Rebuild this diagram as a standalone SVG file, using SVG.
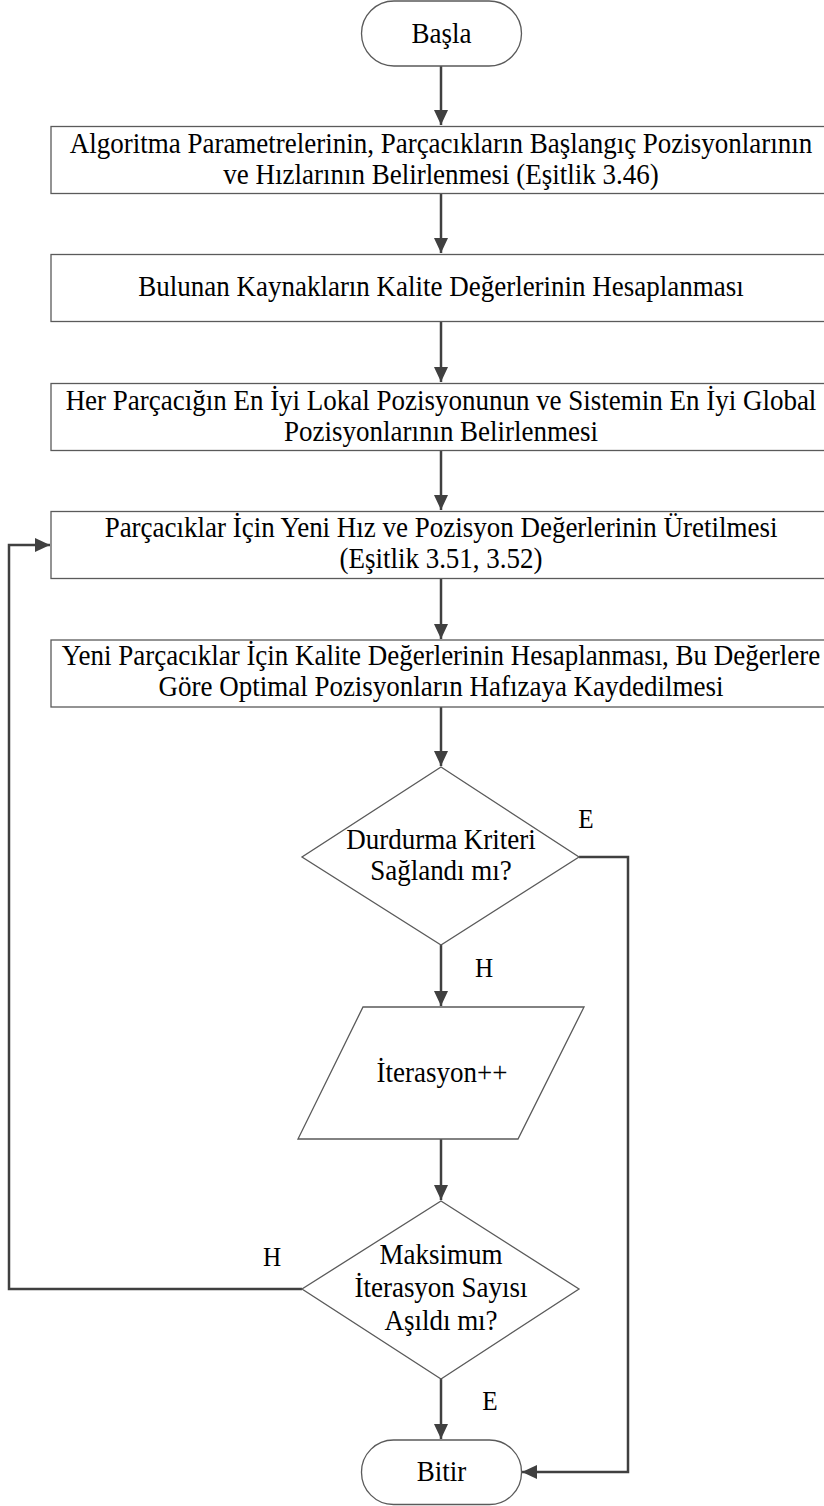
<svg xmlns="http://www.w3.org/2000/svg" width="824" height="1506" viewBox="0 0 824 1506">
<style>
.shape{fill:#ffffff;stroke:#5a5a5a;stroke-width:1.3}
.t{font-family:"Liberation Serif","Times New Roman",serif;font-size:30px;fill:#000;text-anchor:middle}
.lbl{font-family:"Liberation Serif","Times New Roman",serif;font-size:28px;fill:#000;text-anchor:middle}
.c{fill:none;stroke:#404040;stroke-width:2.5}
</style>
<defs>
<marker id="arr" markerUnits="userSpaceOnUse" markerWidth="16" markerHeight="14" refX="15" refY="7" orient="auto">
<path d="M0,0 L15,7 L0,14 Z" fill="#404040"/>
</marker>
</defs>
<rect width="824" height="1506" fill="#ffffff"/>
<g id="connectors">
<path class="c" d="M441,66 V125" marker-end="url(#arr)"/>
<path class="c" d="M441,194 V253" marker-end="url(#arr)"/>
<path class="c" d="M441,321 V382" marker-end="url(#arr)"/>
<path class="c" d="M441,450 V510" marker-end="url(#arr)"/>
<path class="c" d="M441,578 V639" marker-end="url(#arr)"/>
<path class="c" d="M441,707 V766" marker-end="url(#arr)"/>
<path class="c" d="M441,945 V1006" marker-end="url(#arr)"/>
<path class="c" d="M441,1139 V1200" marker-end="url(#arr)"/>
<path class="c" d="M441,1379 V1439" marker-end="url(#arr)"/>
<path class="c" d="M579,857 H628 V1472 H522" marker-end="url(#arr)"/>
<path class="c" d="M302,1289 H9 V545 H50" marker-end="url(#arr)"/>
</g>
<g id="labels">
<text class="lbl" transform="translate(586 828) scale(0.9 1)">E</text>
<text class="lbl" transform="translate(484 977) scale(0.9 1)">H</text>
<text class="lbl" transform="translate(272 1266) scale(0.9 1)">H</text>
<text class="lbl" transform="translate(490 1410) scale(0.9 1)">E</text>
</g>
<g id="start">
<rect class="shape" x="361.5" y="1" width="160" height="65" rx="32.5"/>
<text class="t" transform="translate(441.5 43) scale(0.9 1)">Başla</text>
</g>
<g id="box1">
<rect class="shape" x="51" y="126.5" width="790" height="67"/>
<text class="t" transform="translate(441 153) scale(0.9 1)">Algoritma Parametrelerinin, Parçacıkların Başlangıç Pozisyonlarının</text>
<text class="t" transform="translate(441 184) scale(0.9 1)">ve Hızlarının Belirlenmesi (Eşitlik 3.46)</text>
</g>
<g id="box2">
<rect class="shape" x="51" y="254.5" width="790" height="67"/>
<text class="t" transform="translate(441 296) scale(0.9 1)">Bulunan Kaynakların Kalite Değerlerinin Hesaplanması</text>
</g>
<g id="box3">
<rect class="shape" x="51" y="383.5" width="790" height="67"/>
<text class="t" transform="translate(441 410) scale(0.9 1)">Her Parçacığın En İyi Lokal Pozisyonunun ve Sistemin En İyi Global</text>
<text class="t" transform="translate(441 441) scale(0.9 1)">Pozisyonlarının Belirlenmesi</text>
</g>
<g id="box4">
<rect class="shape" x="51" y="511.5" width="790" height="67"/>
<text class="t" transform="translate(441 537) scale(0.9 1)">Parçacıklar İçin Yeni Hız ve Pozisyon Değerlerinin Üretilmesi</text>
<text class="t" transform="translate(441 568) scale(0.9 1)">(Eşitlik 3.51, 3.52)</text>
</g>
<g id="box5">
<rect class="shape" x="51" y="640" width="790" height="67"/>
<text class="t" transform="translate(441 665) scale(0.9 1)">Yeni Parçacıklar İçin Kalite Değerlerinin Hesaplanması, Bu Değerlere</text>
<text class="t" transform="translate(441 696) scale(0.9 1)">Göre Optimal Pozisyonların Hafızaya Kaydedilmesi</text>
</g>
<g id="decision1">
<polygon class="shape" points="441,767 579,857 441,945 302,857"/>
<text class="t" transform="translate(441 849) scale(0.9 1)">Durdurma Kriteri</text>
<text class="t" transform="translate(441 880) scale(0.9 1)">Sağlandı mı?</text>
</g>
<g id="iteration">
<polygon class="shape" points="363,1007 584,1007 518,1139 298,1139"/>
<text class="t" transform="translate(442 1082) scale(0.9 1)">İterasyon++</text>
</g>
<g id="decision2">
<polygon class="shape" points="441,1201 579,1289 441,1379 302,1289"/>
<text class="t" transform="translate(441 1264) scale(0.9 1)">Maksimum</text>
<text class="t" transform="translate(441 1297) scale(0.9 1)">İterasyon Sayısı</text>
<text class="t" transform="translate(441 1330) scale(0.9 1)">Aşıldı mı?</text>
</g>
<g id="end">
<rect class="shape" x="361.5" y="1440" width="160" height="64.5" rx="32"/>
<text class="t" transform="translate(441.5 1481) scale(0.9 1)">Bitir</text>
</g>
</svg>
